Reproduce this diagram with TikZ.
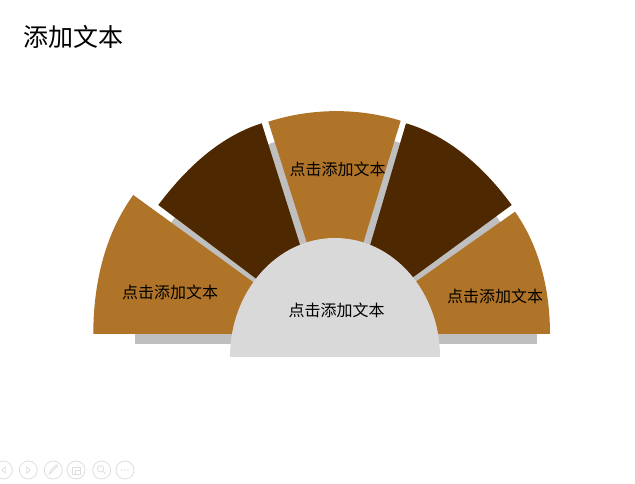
\documentclass[tikz,border=0pt]{standalone}
\usepackage{fontspec}
\setmainfont{Noto Sans CJK SC}
\usetikzlibrary{positioning}

\definecolor{lightbrown}{RGB}{176,116,40}
\definecolor{darkbrown}{RGB}{77,40,0}
\definecolor{shadowgrey}{RGB}{191,191,191}
\definecolor{diskgrey}{RGB}{217,217,217}
\definecolor{icongrey}{RGB}{222,222,222}

\begin{document}
\begin{tikzpicture}[x=1pt,y=1pt,
  label_text/.style={font=\fontsize{16}{16}\selectfont,text=black,inner sep=0pt},
  rim/.style={looseness=0.87},
  icon/.style={draw=icongrey,line width=0.8pt}]
  \useasboundingbox (0,0) rectangle (635,484);

  % title
  \node [anchor=west,font=\fontsize{25}{25}\selectfont,inner sep=0pt] (title) at (23,447) {添加文本};

  % grey backing behind the fan
  \fill [shadowgrey] (135,140) arc [start angle=180,end angle=0,x radius=201,y radius=212] -- cycle;

  % fan sectors: apex -- corner, rim -- corner
  \coordinate (s1_apex) at (324.5,150);  \coordinate (s1_a) at (93.3,150);   \coordinate (s1_b) at (133.3,289);
  \coordinate (s2_apex) at (327.7,151.4);\coordinate (s2_a) at (158.3,279);  \coordinate (s2_b) at (261.7,360.7);
  \coordinate (s3_apex) at (335.6,151);  \coordinate (s3_a) at (268.3,362.3);\coordinate (s3_b) at (400.7,363.3);
  \coordinate (s4_apex) at (346.3,157.9);\coordinate (s4_a) at (406,360.7);  \coordinate (s4_b) at (511.7,279);
  \coordinate (s5_apex) at (341.6,150);  \coordinate (s5_a) at (515,272.3);  \coordinate (s5_b) at (550,150);

  \fill [lightbrown] (s1_apex) -- (s1_b) to [rim,out=234,in=90]     (s1_a) -- cycle;
  \fill [darkbrown]  (s2_apex) -- (s2_b) to [rim,out=197.5,in=53]   (s2_a) -- cycle;
  \fill [lightbrown] (s3_apex) -- (s3_b) to [rim,out=163,in=17.6]   (s3_a) -- cycle;
  \fill [darkbrown]  (s4_apex) -- (s4_b) to [rim,out=126.2,in=-16.4](s4_a) -- cycle;
  \fill [lightbrown] (s5_apex) -- (s5_b) to [rim,out=90,in=-54.8]   (s5_a) -- cycle;

  % centre half disk
  \fill [diskgrey] (230,127) arc [start angle=180,end angle=0,x radius=105,y radius=119] -- cycle;

  \node [label_text] (txt_left)   at (170,192) {点击添加文本};
  \node [label_text] (txt_top)    at (337.5,315) {点击添加文本};
  \node [label_text] (txt_centre) at (336.5,174) {点击添加文本};
  \node [label_text] (txt_right)  at (495,188) {点击添加文本};

  % slide show controls
  \foreach \cx/\name in {3.3/prev,28.3/next,53.3/pen,76/screen,101.7/zoom,125/more}
    \draw [icon] (\cx,14) circle (9) coordinate (ic_\name);
  \draw [icon] (5.3,11) -- (1.8,14) -- (5.3,17) -- cycle;
  \draw [icon] (26.8,11) -- (30.3,14) -- (26.8,17) -- cycle;
  \draw [icon] (49.3,10) -- (50.3,13) -- (56.3,19) -- (57.5,17.8) -- (51.5,11.8) -- cycle;
  \draw [icon] (72,10) rectangle (80,17);
  \draw [icon] (75,10) rectangle (80,14);
  \draw [icon] (100.5,15.2) circle (3.2);
  \draw [icon] (102.8,12.9) -- (105.5,10.2);
  \foreach \dx in {-3,0,3}
    \fill [icongrey] (125+\dx,14) circle (0.9);
\end{tikzpicture}
\end{document}
